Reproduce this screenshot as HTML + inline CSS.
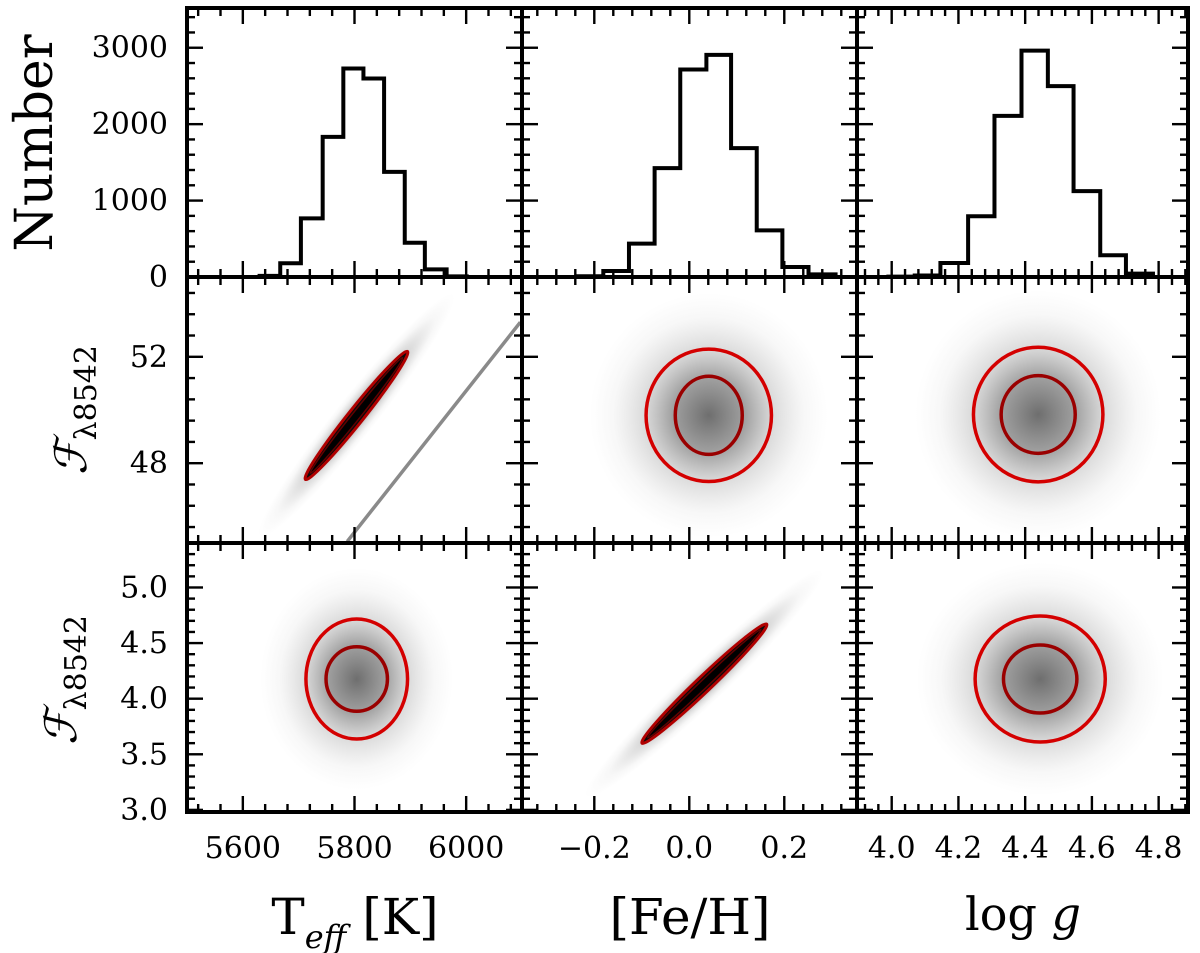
<!DOCTYPE html>
<html><head><meta charset="utf-8"><style>
html,body{margin:0;padding:0;background:#fff;}
svg{display:block;}
text{font-family:"DejaVu Serif","Liberation Serif",serif;fill:#000;}
</style></head><body>
<svg id="fig" width="1200" height="953" viewBox="0 0 1200 953" xmlns="http://www.w3.org/2000/svg">
<defs>
<radialGradient id="cloud" cx="50%" cy="50%" r="50%">
<stop offset="0" stop-color="#303030" stop-opacity="0.7"/>
<stop offset="0.3" stop-color="#404040" stop-opacity="0.5"/>
<stop offset="0.55" stop-color="#606060" stop-opacity="0.22"/>
<stop offset="0.8" stop-color="#808080" stop-opacity="0.06"/>
<stop offset="1" stop-color="#909090" stop-opacity="0"/>
</radialGradient>
</defs>
<g id="layer"></g>
</svg>
<script>
// ---- axis layout ----
const colPx = [[187,522],[522,857],[857,1188]];
const rowPx = [[8,277],[277,543],[543,812]];
const xDomains = [[5500,6100],[-0.3522,0.3531],[3.896,4.888]];
const yDomains = [[0,3520],[45,55],[2.981,5.4]];

// ---- tick data ----
const xMajor = [[5600,5800,6000],[-0.2,0.0,0.2],[4.0,4.2,4.4,4.6,4.8]];
const xMajorLabels = [["5600","5800","6000"],["\u22120.2","0.0","0.2"],["4.0","4.2","4.4","4.6","4.8"]];
const xMinorStep = [40,0.04,0.04];
const yMajor = [[0,1000,2000,3000],[48,52],[3.0,3.5,4.0,4.5,5.0]];
const yMajorLabels = [["0","1000","2000","3000"],["48","52"],["3.0","3.5","4.0","4.5","5.0"]];
const yMinorStep = [200,0.8,0.1];

// ---- histogram data ----
const teffEdges = [5630,5667,5704,5743,5780,5816,5853,5890,5926,5965,6001];
const teffCounts = [15,180,767,1834,2728,2597,1376,448,100,8];
const fehEdges = [-0.235,-0.181,-0.127,-0.073,-0.019,0.036,0.088,0.142,0.196,0.251,0.308];
const fehCounts = [10,78,436,1425,2715,2906,1686,610,131,35];
const loggEdges = [3.99,4.069,4.146,4.229,4.308,4.389,4.468,4.545,4.625,4.702,4.783];
const loggCounts = [5,20,183,795,2109,2962,2498,1123,284,44];

// ---- round contour data ----
const roundPanels = [[1,1],[2,1],[0,2],[2,2]];
const roundCenterX = [0.041,4.439,5804,4.445];
const roundCenterY = [49.8,49.83,4.177,4.177];
const outerRx = [0.132,0.194,91,0.195];
const outerRy = [2.49,2.53,0.54,0.567];
const innerRx = [0.0705,0.111,55,0.11];
const innerRy = [1.47,1.46,0.29,0.306];

// ---- elongated (correlated) contour data ----
const longPanels = [[0,1],[1,2]];
const longStartX = [5712,-0.0996];
const longStartY = [47.39,3.60];
const longEndX = [5895,0.163];
const longEndY = [52.2,4.67];

// ---- gray reference line ----
const refLineX = [5787,6097];
const refLineY = [45.06,53.3];

const NS = "http://www.w3.org/2000/svg";
const layer = document.getElementById('layer');
function mk(tag, attrs, parent){
  const e = document.createElementNS(NS, tag);
  for (const k in attrs) e.setAttribute(k, attrs[k]);
  (parent||layer).appendChild(e);
  return e;
}
function sx(c, v){ const d=xDomains[c], p=colPx[c]; return p[0]+(v-d[0])/(d[1]-d[0])*(p[1]-p[0]); }
function sy(r, v){ const d=yDomains[r], p=rowPx[r]; return p[1]-(v-d[0])/(d[1]-d[0])*(p[1]-p[0]); }

const defs = document.querySelector('defs');
for (let r=0;r<3;r++) for (let c=0;c<3;c++){
  const cp = mk('clipPath',{id:'clip'+r+c},defs);
  mk('rect',{x:colPx[c][0],y:rowPx[r][0],width:colPx[c][1]-colPx[c][0],height:rowPx[r][1]-rowPx[r][0]},cp);
}

// histograms
const hists = [[teffEdges,teffCounts],[fehEdges,fehCounts],[loggEdges,loggCounts]];
hists.forEach((h,c)=>{
  const E=h[0], C=h[1];
  let d = 'M'+sx(c,E[0])+','+sy(0,0);
  for (let i=0;i<C.length;i++){
    d += ' L'+sx(c,E[i])+','+sy(0,C[i])+' L'+sx(c,E[i+1])+','+sy(0,C[i]);
  }
  d += ' L'+sx(c,E[E.length-1])+','+sy(0,0);
  const p = mk('path',{d:d,fill:'none',stroke:'#000','stroke-width':4,'clip-path':'url(#clip0'+c+')'});
  
  
});

// round clouds + contours
roundPanels.forEach((pr,i)=>{
  const c=pr[0], r=pr[1];
  const cx=sx(c,roundCenterX[i]), cy=sy(r,roundCenterY[i]);
  const orx=Math.abs(sx(c,roundCenterX[i]+outerRx[i])-cx), ory=Math.abs(sy(r,roundCenterY[i]+outerRy[i])-cy);
  const irx=Math.abs(sx(c,roundCenterX[i]+innerRx[i])-cx), iry=Math.abs(sy(r,roundCenterY[i]+innerRy[i])-cy);
  const g = mk('g',{'clip-path':'url(#clip'+r+c+')'});
  
  
  const cl = mk('ellipse',{cx:cx,cy:cy,rx:orx*1.9,ry:ory*1.85,fill:'url(#cloud)'},g);
  
  
  const o = mk('ellipse',{cx:cx,cy:cy,rx:orx,ry:ory,fill:'none',stroke:'#d40000','stroke-width':3.5},g);
  
  
  const n = mk('ellipse',{cx:cx,cy:cy,rx:irx,ry:iry,fill:'none',stroke:'#9a0000','stroke-width':3.5},g);
  
  
});

// elongated clouds + contours
longPanels.forEach((pr,i)=>{
  const c=pr[0], r=pr[1];
  const x1=sx(c,longStartX[i]), y1=sy(r,longStartY[i]), x2=sx(c,longEndX[i]), y2=sy(r,longEndY[i]);
  const mx=(x1+x2)/2, my=(y1+y2)/2, len=Math.hypot(x2-x1,y2-y1), ang=Math.atan2(y2-y1,x2-x1)*180/Math.PI;
  const g = mk('g',{'clip-path':'url(#clip'+r+c+')'});
  
  
  const t='rotate('+ang+' '+mx+' '+my+')';
  const cl = mk('ellipse',{cx:mx,cy:my,rx:len*0.95,ry:20,fill:'url(#cloud)',transform:t},g);
  
  
  const o = mk('ellipse',{cx:mx,cy:my,rx:len/2,ry:7.5,fill:'#0a0a0a',stroke:'#b00000','stroke-width':3,transform:t},g);
  
  
  const n = mk('ellipse',{cx:mx,cy:my,rx:len/2-8,ry:4,fill:'#000',stroke:'#600000','stroke-width':1.5,transform:t},g);
  
  
});

// gray reference line
const rl = mk('line',{x1:sx(0,refLineX[0]),y1:sy(1,refLineY[0]),x2:sx(0,refLineX[1]),y2:sy(1,refLineY[1]),stroke:'#8a8a8a','stroke-width':3.5,'clip-path':'url(#clip10)'});



// ticks and frames
function tick(x1,y1,x2,y2,w){ const t=mk('line',{x1:x1,y1:y1,x2:x2,y2:y2,stroke:'#000','stroke-width':w});
    }
for (let r=0;r<3;r++) for (let c=0;c<3;c++){
  const L=colPx[c][0], R=colPx[c][1], T=rowPx[r][0], B=rowPx[r][1];
  const dx=xDomains[c], s=xMinorStep[c];
  for (let v=Math.ceil(dx[0]/s)*s; v<=dx[1]+1e-9; v+=s){
    const isMaj = xMajor[c].some(m=>Math.abs(m-v)<s/4);
    const x=sx(c,v), l=isMaj?16:8;
    tick(x,B,x,B-l,2.4); tick(x,T,x,T+l,2.4);
  }
  const dy=yDomains[r], sy0=yMinorStep[r];
  for (let v=Math.ceil(dy[0]/sy0-1e-9)*sy0; v<=dy[1]+1e-9; v+=sy0){
    const isMaj = yMajor[r].some(m=>Math.abs(m-v)<sy0/4);
    const y=sy(r,v), l=isMaj?16:8;
    tick(L,y,L+l,y,2.4); tick(R,y,R-l,y,2.4);
  }
  const f=mk('rect',{x:L,y:T,width:R-L,height:B-T,fill:'none',stroke:'#000','stroke-width':4});
  
  
}

// tick labels
xMajor.forEach((arr,c)=>arr.forEach((v,i)=>{
  const t=mk('text',{x:sx(c,v),y:858,'text-anchor':'middle','font-size':30});
  t.textContent=xMajorLabels[c][i];
  
  
}));
yMajor.forEach((arr,r)=>arr.forEach((v,i)=>{
  const t=mk('text',{x:168,y:sy(r,v)+10,'text-anchor':'end','font-size':30});
  t.textContent=yMajorLabels[r][i];
  
  
}));
</script>
<script>
(function(){
const svg=document.getElementById('fig');
function add(html){ svg.insertAdjacentHTML('beforeend', html); }
add('<text x="355" y="934" text-anchor="middle" font-size="50">T<tspan font-style="italic" font-size="32" dy="14">eff</tspan><tspan dy="-14"> [K]</tspan></text>');
add('<text x="690" y="934" text-anchor="middle" font-size="50">[Fe/H]</text>');
add('<text x="1023" y="930" text-anchor="middle" font-size="46">log <tspan font-style="italic">g</tspan></text>');
add('<text transform="translate(52,143) rotate(-90)" text-anchor="middle" font-size="52">Number</text>');
add('<text transform="translate(86,410) rotate(-90)" text-anchor="middle" font-size="44" font-style="italic">\u2131<tspan font-style="normal" font-size="30" dy="10">\u03bb8542</tspan></text>');
add('<text transform="translate(76,680) rotate(-90)" text-anchor="middle" font-size="44" font-style="italic">\u2131<tspan font-style="normal" font-size="30" dy="10">\u03bb8542</tspan></text>');
})();
</script>
</body></html>
